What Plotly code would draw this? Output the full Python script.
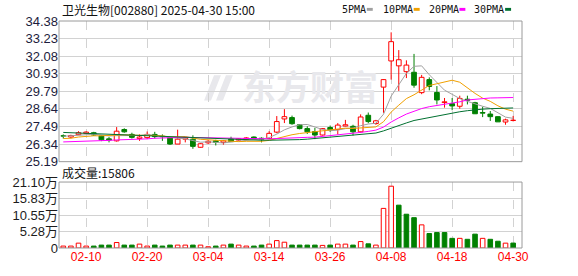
import plotly.graph_objects as go

# ---------------- data ----------------
dates = ["02-05", "02-06", "02-07", "02-10", "02-11", "02-12", "02-13", "02-14", "02-17", "02-18",
         "02-19", "02-20", "02-21", "02-24", "02-25", "02-26", "02-27", "02-28", "03-03", "03-04",
         "03-05", "03-06", "03-07", "03-10", "03-11", "03-12", "03-13", "03-14", "03-17", "03-18",
         "03-19", "03-20", "03-21", "03-24", "03-25", "03-26", "03-27", "03-28", "03-31", "04-01",
         "04-02", "04-03", "04-07", "04-08", "04-09", "04-10", "04-11", "04-14", "04-15", "04-16",
         "04-17", "04-18", "04-21", "04-22", "04-23", "04-24", "04-25", "04-28", "04-29", "04-30"]

open_ = [26.88, 26.80, 26.95, 27.04, 27.08, 26.87, 26.68, 26.55, 27.29, 26.97,
         26.70, 26.76, 26.97, 26.85, 26.76, 26.34, 26.66, 26.66, 26.13, 26.42,
         26.55, 26.45, 26.66, 26.60, 26.65, 26.80, 26.72, 26.70, 27.12, 27.98,
         28.07, 27.60, 27.35, 27.16, 26.93, 27.42, 27.29, 27.52, 27.50, 27.14,
         28.22, 27.68, 30.06, 31.77, 31.45, 31.07, 31.03, 29.70, 30.55, 29.71,
         29.05, 28.98, 28.81, 29.27, 29.04, 28.40, 28.30, 28.13, 27.78, 27.88]
high = [26.97, 26.95, 27.18, 27.18, 27.14, 26.90, 26.80, 27.45, 27.37, 27.08,
        26.97, 27.16, 27.14, 26.97, 26.78, 27.28, 26.80, 26.91, 26.40, 26.62,
        26.62, 26.60, 26.82, 26.72, 26.80, 26.84, 26.78, 27.18, 28.17, 28.62,
        28.20, 27.65, 27.50, 27.40, 27.39, 27.55, 27.71, 27.92, 27.60, 28.28,
        28.40, 27.92, 30.58, 33.64, 32.48, 31.81, 32.23, 30.86, 30.70, 30.13,
        29.35, 29.35, 29.50, 29.50, 29.10, 28.78, 28.50, 28.15, 28.00, 28.18]
low = [26.70, 26.72, 26.93, 27.00, 26.87, 26.53, 26.45, 26.50, 27.08, 26.70,
       26.55, 26.66, 26.70, 26.55, 26.28, 26.34, 26.45, 26.03, 26.10, 26.34,
       26.25, 26.30, 26.48, 26.55, 26.60, 26.66, 26.45, 26.66, 27.05, 27.71,
       27.60, 27.30, 27.00, 26.66, 26.90, 27.14, 26.97, 27.50, 26.90, 27.08,
       27.70, 27.60, 28.38, 30.55, 29.81, 30.65, 30.02, 29.60, 29.85, 28.93,
       28.72, 28.55, 28.65, 28.93, 28.30, 28.10, 27.85, 27.78, 27.60, 27.82]
close = [26.86, 26.90, 27.08, 27.12, 26.93, 26.62, 26.60, 27.18, 27.14, 26.78,
         26.80, 26.97, 26.83, 26.82, 26.34, 26.66, 26.74, 26.19, 26.36, 26.52,
         26.45, 26.55, 26.50, 26.68, 26.74, 26.70, 26.66, 27.04, 27.81, 28.13,
         27.67, 27.35, 27.14, 26.93, 27.35, 27.27, 27.58, 27.60, 27.14, 28.11,
         27.81, 27.86, 30.55, 33.03, 31.85, 31.50, 30.19, 30.70, 30.10, 29.22,
         29.10, 28.83, 29.32, 29.20, 28.32, 28.36, 28.13, 27.79, 27.92, 27.90]
prev_close = 26.78

# volume in 万 (10k lots)
volume = [0.62, 0.62, 1.55, 0.62, 0.62, 0.93, 0.93, 1.75, 0.93, 0.93,
          1.24, 0.62, 0.93, 0.62, 0.93, 0.93, 0.93, 0.93, 0.93, 0.40,
          0.62, 0.93, 1.24, 0.93, 0.62, 0.62, 0.93, 1.24, 2.37, 1.85,
          0.93, 0.93, 0.93, 0.93, 0.83, 0.93, 1.24, 1.24, 0.93, 2.06,
          1.34, 0.93, 12.67, 19.77, 13.70, 10.80, 9.70, 7.40, 4.63, 4.94,
          4.94, 3.09, 3.09, 2.78, 4.43, 3.09, 2.78, 2.16, 1.55, 1.58]
last_volume = 15806

ma5 = [26.85, 26.88, 26.93, 26.98, 26.98, 26.93, 26.87, 26.89, 26.89, 26.86,
       26.90, 26.97, 26.90, 26.84, 26.75, 26.72, 26.68, 26.55, 26.46, 26.49,
       26.45, 26.41, 26.48, 26.54, 26.58, 26.63, 26.66, 26.76, 26.99, 27.27,
       27.46, 27.60, 27.62, 27.44, 27.29, 27.21, 27.25, 27.35, 27.39, 27.54,
       27.65, 27.70, 28.29, 29.47, 30.22, 30.96, 31.42, 31.45, 30.87, 30.34,
       29.86, 29.59, 29.31, 29.13, 28.95, 28.81, 28.67, 28.36, 28.10, 28.02]
ma10 = [26.70, 26.72, 26.80, 26.85, 26.88, 26.88, 26.90, 26.94, 26.95, 26.92,
        26.92, 26.92, 26.90, 26.87, 26.81, 26.81, 26.83, 26.73, 26.65, 26.62,
        26.59, 26.55, 26.52, 26.50, 26.52, 26.52, 26.52, 26.58, 26.70, 26.84,
        26.95, 27.03, 27.09, 27.13, 27.18, 27.24, 27.32, 27.38, 27.36, 27.38,
        27.40, 27.46, 27.80, 28.43, 28.88, 29.31, 29.56, 29.87, 30.17, 30.28,
        30.41, 30.51, 30.38, 30.00, 29.65, 29.34, 29.13, 28.84, 28.62, 28.49]
ma20 = [26.48, 26.49, 26.50, 26.51, 26.52, 26.54, 26.58, 26.61, 26.62, 26.63,
        26.65, 26.68, 26.72, 26.75, 26.76, 26.77, 26.78, 26.77, 26.76, 26.74,
        26.73, 26.72, 26.70, 26.69, 26.68, 26.68, 26.68, 26.68, 26.70, 26.73,
        26.75, 26.76, 26.78, 26.79, 26.84, 26.89, 26.94, 26.98, 27.02, 27.10,
        27.17, 27.25, 27.45, 27.78, 28.05, 28.30, 28.48, 28.66, 28.78, 28.85,
        28.92, 29.00, 29.10, 29.22, 29.27, 29.33, 29.35, 29.36, 29.38, 29.38]
ma30 = [27.10, 27.08, 27.05, 27.02, 27.00, 26.97, 26.95, 26.93, 26.92, 26.91,
        26.90, 26.88, 26.86, 26.84, 26.82, 26.80, 26.78, 26.74, 26.70, 26.68,
        26.66, 26.64, 26.62, 26.61, 26.60, 26.59, 26.59, 26.59, 26.59, 26.60,
        26.61, 26.63, 26.66, 26.70, 26.76, 26.80, 26.85, 26.88, 26.90, 26.95,
        27.00, 27.06, 27.20, 27.39, 27.55, 27.72, 27.88, 27.98, 28.08, 28.18,
        28.28, 28.36, 28.45, 28.52, 28.58, 28.62, 28.65, 28.67, 28.69, 28.70]

x_tick_labels = ["02-10", "02-20", "03-04", "03-14", "03-26", "04-08", "04-18", "04-30"]
price_ticks = [25.19, 26.34, 27.49, 28.64, 29.79, 30.93, 32.08, 33.23, 34.38]
volume_ticks = [0, 5.28, 10.55, 15.83, 21.10]

title_text = "卫光生物[002880] 2025-04-30 15:00"
ma_names = ["5PMA", "10PMA", "20PMA", "30PMA"]

# ---------------- styling ----------------
W, H = 578, 276
ML, MR, MT, MB = 56, 56, 21, 21
PW, PH = W - ML - MR, H - MT - MB
RED = "#ff0000"
GREEN = "#008000"
MA_COLORS = ["#a0a0a0", "#f0a000", "#ff00ff", "#007030"]
GRID = "#d2d2d2"
FRAME = "#9a9a9a"
WATERMARK = "#e8e8ec"


def px_x(px):
    return (px - ML) / PW


def px_y(py):
    return (H - MB - py) / PH


xs = list(range(len(dates)))
tick_pos = [dates.index(t) for t in x_tick_labels]
xrange_ = [-0.56, len(dates) + 0.16]

price_dom = [px_y(166), 1.0]
vol_dom = [0.0, px_y(187)]

fig = go.Figure()

# wicks (split above/below body so hollow bodies stay clean)
for up in (True, False):
    wx, wy = [], []
    for i in xs:
        is_up = close[i] >= open_[i]
        if is_up != up:
            continue
        top, bot = max(open_[i], close[i]), min(open_[i], close[i])
        if high[i] > top:
            wx += [i, i, None]
            wy += [top, high[i], None]
        if low[i] < bot:
            wx += [i, i, None]
            wy += [bot, low[i], None]
    fig.add_trace(go.Scatter(x=wx, y=wy, mode="lines", line=dict(color=RED if up else GREEN, width=1),
                             hoverinfo="skip", xaxis="x", yaxis="y"))

# bodies
for up in (True, False):
    bx, bb, bh = [], [], []
    for i in xs:
        is_up = close[i] >= open_[i]
        if is_up != up:
            continue
        bot = min(open_[i], close[i])
        hgt = max(abs(close[i] - open_[i]), 0.015)
        bx.append(i)
        bb.append(bot)
        bh.append(hgt)
    fig.add_trace(go.Bar(x=bx, y=bh, base=bb, width=0.62,
                         marker=dict(color="white" if up else GREEN,
                                     line=dict(color=RED if up else GREEN, width=1)),
                         hoverinfo="skip", xaxis="x", yaxis="y"))

# moving averages
for vals, col in zip([ma5, ma10, ma20, ma30], MA_COLORS):
    fig.add_trace(go.Scatter(x=xs, y=vals, mode="lines", line=dict(color=col, width=1),
                             hoverinfo="skip", xaxis="x", yaxis="y"))

# volume
prevs = [prev_close] + close[:-1]
for up in (True, False):
    vx, vy = [], []
    for i in xs:
        if (close[i] >= prevs[i]) == up:
            vx.append(i)
            vy.append(volume[i])
    fig.add_trace(go.Bar(x=vx, y=vy, width=0.6,
                         marker=dict(color="white" if up else GREEN,
                                     line=dict(color=RED if up else GREEN, width=1)),
                         hoverinfo="skip", xaxis="x2", yaxis="y2"))

axis_font = dict(family="Liberation Sans, Arial, sans-serif", size=13, color="#1c1c3c")

fig.update_layout(
    width=W, height=H,
    margin=dict(l=ML, r=MR, t=MT, b=MB, pad=0),
    paper_bgcolor="white", plot_bgcolor="white",
    showlegend=False, barmode="overlay",
    xaxis=dict(domain=[0, 1], anchor="y", range=xrange_, tickvals=tick_pos, showticklabels=False,
               showgrid=True, gridcolor=GRID, griddash="dash", gridwidth=1, zeroline=False, ticks=""),
    xaxis2=dict(domain=[0, 1], anchor="y2", range=xrange_, tickvals=tick_pos, ticktext=x_tick_labels,
                tickfont=dict(family="Liberation Sans, Arial, sans-serif", size=12, color=RED),
                showgrid=True, gridcolor=GRID, griddash="dash", gridwidth=1, zeroline=False, ticks=""),
    yaxis=dict(domain=price_dom, anchor="x", range=[price_ticks[0], price_ticks[-1]], tickvals=price_ticks,
               ticktext=["%.2f" % v for v in price_ticks], tickfont=axis_font,
               showgrid=True, gridcolor=GRID, gridwidth=1, zeroline=False, ticks=""),
    yaxis2=dict(domain=vol_dom, anchor="x2", range=[0, volume_ticks[-1]], tickvals=volume_ticks,
                ticktext=["0" if v == 0 else "%.2f万" % v for v in volume_ticks],
                tickfont=dict(family="Liberation Sans, Noto Sans CJK SC, sans-serif", size=13, color="#1c1c1c"),
                showgrid=True, gridcolor=GRID, gridwidth=1, zeroline=False, ticks=""),
)


def logo_path(cx, cy):
    # two slanted strokes forming a simple swoosh-like mark (pixel coords -> paper coords)
    pts1 = [(cx - 14, cy + 13), (cx - 4, cy - 13), (cx + 3, cy - 13), (cx - 7, cy + 13)]
    pts2 = [(cx - 2, cy + 13), (cx + 8, cy - 13), (cx + 15, cy - 13), (cx + 5, cy + 13)]
    out = []
    for pts in (pts1, pts2):
        s = "M " + " L ".join("%.4f,%.4f" % (px_x(a), px_y(b)) for a, b in pts) + " Z"
        out.append(s)
    return " ".join(out)


shapes = [
    dict(type="path", xref="paper", yref="paper", path=logo_path(216, 90), layer="below",
         line=dict(width=0), fillcolor=WATERMARK),
    dict(type="rect", xref="paper", yref="paper", x0=0, x1=1, y0=price_dom[0], y1=price_dom[1],
         line=dict(color=FRAME, width=1)),
    dict(type="rect", xref="paper", yref="paper", x0=0, x1=1, y0=vol_dom[0], y1=vol_dom[1],
         line=dict(color=FRAME, width=1)),
]

annotations = [
    dict(text=title_text, xref="paper", yref="paper", x=px_x(57), y=px_y(9), xanchor="left",
         yanchor="middle", showarrow=False,
         font=dict(family="Noto Sans CJK SC, sans-serif", size=12, color="#111111")),
    dict(text="成交量:%d" % last_volume, xref="paper", yref="paper", x=px_x(57), y=px_y(177),
         xanchor="left", yanchor="middle", showarrow=False,
         font=dict(family="Noto Sans CJK SC, sans-serif", size=12, color="#111111")),
    dict(text="<b>东方财富</b>", xref="paper", yref="paper", x=px_x(309), y=px_y(88), xanchor="center",
         yanchor="middle", showarrow=False,
         font=dict(family="Noto Sans CJK SC, sans-serif", size=34, color=WATERMARK)),
]

legend_text_x = [339, 380, 426, 472]
for name, col, lx in zip(ma_names, MA_COLORS, legend_text_x):
    annotations.append(dict(text=name, xref="paper", yref="paper", x=px_x(lx), y=px_y(9),
                            xanchor="left", yanchor="middle", showarrow=False,
                            font=dict(family="DejaVu Sans Mono, monospace", size=10, color="#111111")))
    mx = lx + 6.2 * len(name) + 2
    shapes.append(dict(type="rect", xref="paper", yref="paper", x0=px_x(mx), x1=px_x(mx + 6),
                       y0=px_y(10.5), y1=px_y(7.5), line=dict(width=0), fillcolor=col))

fig.update_layout(shapes=shapes, annotations=annotations)

fig.write_html("out.html")
